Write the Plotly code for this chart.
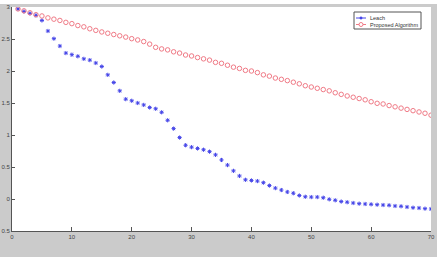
import plotly.graph_objects as go

x_vals = list(range(1, 71))

leach = [2.97, 2.93, 2.90, 2.87, 2.79, 2.625, 2.505, 2.39, 2.28, 2.255,
         2.23, 2.19, 2.17, 2.125, 2.07, 1.94, 1.82, 1.69, 1.56, 1.535,
         1.50, 1.47, 1.43, 1.41, 1.355, 1.23, 1.10, 0.96, 0.84, 0.81,
         0.79, 0.77, 0.74, 0.69, 0.61, 0.53, 0.44, 0.36, 0.30, 0.29,
         0.28, 0.255, 0.21, 0.17, 0.14, 0.11, 0.09, 0.055, 0.035, 0.03,
         0.03, 0.02, -0.005, -0.02, -0.04, -0.05, -0.0625, -0.073, -0.078, -0.083,
         -0.089, -0.094, -0.098, -0.109, -0.114, -0.125, -0.136, -0.141, -0.151, -0.156]

proposed = [2.97, 2.94, 2.91, 2.88, 2.86, 2.83, 2.81, 2.79, 2.76, 2.74,
            2.71, 2.69, 2.66, 2.635, 2.61, 2.59, 2.57, 2.55, 2.53, 2.505,
            2.485, 2.46, 2.42, 2.37, 2.345, 2.33, 2.30, 2.28, 2.25, 2.235,
            2.21, 2.19, 2.17, 2.135, 2.12, 2.09, 2.06, 2.04, 2.01, 2.00,
            1.975, 1.94, 1.92, 1.89, 1.87, 1.85, 1.825, 1.80, 1.77, 1.75,
            1.73, 1.71, 1.69, 1.66, 1.635, 1.61, 1.59, 1.57, 1.55, 1.52,
            1.495, 1.485, 1.46, 1.44, 1.42, 1.40, 1.38, 1.36, 1.34, 1.31]

x_ticks = [0, 10, 20, 30, 40, 50, 60, 70]
y_ticks = [-0.5, 0, 0.5, 1, 1.5, 2, 2.5, 3]
y_tick_text = ["0.5", "0", "0.5", "1", "1.5", "2", "2.5", "3"]

series_names = ["Leach", "Proposed Algorithm"]

BLUE = "#4646e8"
RED = "#f07a86"
FONT = "Liberation Sans, Arial, sans-serif"

L, R, T, B = 12, 12, 7, 29
W, H = 443, 260
pw, ph = W - L - R, H - T - B


def px(xp):
    return (xp - L) / pw


def py(yp):
    return (H - B - yp) / ph


fig = go.Figure()

fig.add_trace(go.Scatter(x=x_vals, y=leach, mode="markers", name=series_names[0],
                         marker=dict(symbol="asterisk-open", size=3.5, color=BLUE,
                                     line=dict(color=BLUE, width=1))))
fig.add_trace(go.Scatter(x=x_vals, y=proposed, mode="markers", name=series_names[1],
                         marker=dict(symbol="circle-open", size=4.5, color=RED,
                                     line=dict(color=RED, width=1))))

# compact MATLAB-style legend box
legend_shapes = [
    dict(type="rect", xref="paper", yref="paper", layer="above",
         x0=px(354), x1=px(421), y0=py(29), y1=py(12),
         fillcolor="white", line=dict(color="#555", width=1)),
    dict(type="line", xref="paper", yref="paper", layer="above",
         x0=px(356), x1=px(366), y0=py(18), y1=py(18),
         line=dict(color=BLUE, width=1)),
    dict(type="circle", xref="paper", yref="paper", layer="above",
         x0=px(359.8), x1=px(362.2), y0=py(19.2), y1=py(16.8),
         fillcolor=BLUE, line=dict(color=BLUE, width=0.5)),
    dict(type="line", xref="paper", yref="paper", layer="above",
         x0=px(356), x1=px(366), y0=py(24.5), y1=py(24.5),
         line=dict(color=RED, width=1)),
    dict(type="circle", xref="paper", yref="paper", layer="above",
         x0=px(359), x1=px(363), y0=py(26.5), y1=py(22.5),
         fillcolor="white", line=dict(color=RED, width=1)),
]
legend_annotations = [
    dict(xref="paper", yref="paper", x=px(367.5), y=py(18), text=series_names[0],
         showarrow=False, xanchor="left", yanchor="middle",
         font=dict(size=5.5, color="#333", family=FONT)),
    dict(xref="paper", yref="paper", x=px(367.5), y=py(24.5), text=series_names[1],
         showarrow=False, xanchor="left", yanchor="middle",
         font=dict(size=5.5, color="#333", family=FONT)),
]

fig.update_layout(
    width=W, height=H,
    margin=dict(l=L, r=R, t=T, b=B, pad=0),
    paper_bgcolor="white",
    plot_bgcolor="white",
    font=dict(family=FONT, size=6, color="#333"),
    showlegend=False,
    shapes=[
        dict(type="rect", xref="paper", yref="paper", layer="below",
             x0=px(0), x1=px(437), y0=py(257), y1=py(4),
             fillcolor="#cbcbcb", line=dict(width=0)),
        dict(type="rect", xref="paper", yref="paper", layer="below",
             x0=0, x1=1, y0=0, y1=1,
             fillcolor="white", line=dict(width=0)),
    ] + legend_shapes,
    annotations=legend_annotations,
)

fig.update_xaxes(range=[0, 70], tickvals=x_ticks, ticks="inside", ticklen=4,
                 tickcolor="#555", showline=True, linecolor="#555", linewidth=1,
                 showgrid=False, zeroline=False, automargin=False,
                 tickfont=dict(size=6, color="#444"))
fig.update_yaxes(range=[-0.5, 3], tickvals=y_ticks, ticktext=y_tick_text,
                 ticks="inside", ticklen=3, tickcolor="#555", showline=True,
                 linecolor="#555", linewidth=1, showgrid=False, zeroline=False,
                 automargin=False, tickfont=dict(size=6, color="#444"))

fig.write_html("out.html")
